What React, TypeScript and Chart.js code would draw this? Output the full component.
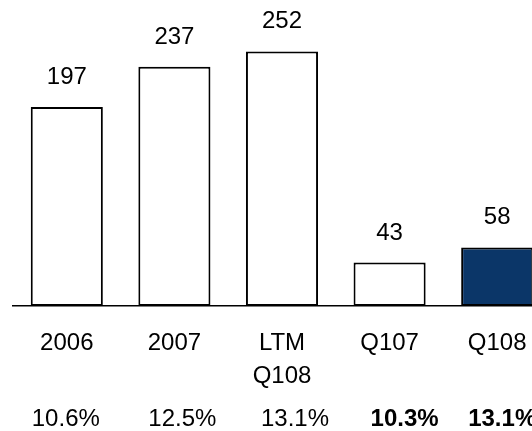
import { useEffect, useRef } from "react";
import { Chart, registerables } from "chart.js";

Chart.register(...registerables);

// Periods shown on the category axis (multi-line where needed)
const categories: (string | string[])[] = ["2006", "2007", ["LTM", "Q108"], "Q107", "Q108"];
// Bar values
const values = [197, 237, 252, 43, 58];
// Margin row printed beneath the periods, in percent
const margins = [10.6, 12.5, 13.1, 10.3, 13.1];

const FONT = "'Liberation Sans', Arial, Helvetica, sans-serif";
const NAVY = "#0b3668";
const HIGHLIGHT_BAR = 4; // filled bar
const BOLD_MARGIN_FROM = 3; // quarterly margins are set in bold

const annotations = {
  id: "barAnnotations",
  afterDatasetsDraw(chart: Chart) {
    const ctx = chart.ctx;
    const meta = chart.getDatasetMeta(0);
    const nudge: number[] = (chart.options.plugins as any).barAnnotations.marginNudge;
    ctx.save();
    ctx.fillStyle = "#000";
    ctx.textAlign = "center";
    ctx.textBaseline = "alphabetic";
    ctx.font = `24px ${FONT}`;
    meta.data.forEach((bar: any, i: number) => {
      const { x, y } = bar.getProps(["x", "y"], true);
      ctx.fillText(String(values[i]), x, y - 23);
    });
    meta.data.forEach((bar: any, i: number) => {
      const { x } = bar.getProps(["x"], true);
      ctx.font = `${i >= BOLD_MARGIN_FROM ? "bold " : ""}24px ${FONT}`;
      ctx.fillText(`${margins[i].toFixed(1)}%`, x + (nudge[i] || 0), 426);
    });
    ctx.restore();
  },
};

export default function App() {
  const canvasRef = useRef<HTMLCanvasElement | null>(null);

  useEffect(() => {
    if (!canvasRef.current) return;
    const chart = new Chart(canvasRef.current, {
      type: "bar",
      data: {
        labels: categories,
        datasets: [
          {
            data: values,
            backgroundColor: values.map((_, i) => (i === HIGHLIGHT_BAR ? NAVY : "#ffffff")),
            borderColor: "#000000",
            borderWidth: 2,
            borderSkipped: false,
            barPercentage: 0.67,
            categoryPercentage: 1,
          },
        ],
      },
      options: {
        responsive: false,
        animation: false,
        events: [],
        layout: { padding: { left: 13, right: 9, top: 3, bottom: 0 } },
        plugins: {
          legend: { display: false },
          tooltip: { enabled: false },
          barAnnotations: { marginNudge: [-1, 8, 13, 15, 5] },
        } as any,
        scales: {
          x: {
            grid: { display: false, drawTicks: false },
            border: { display: true, color: "#000000", width: 1.5 },
            ticks: {
              color: "#000000",
              padding: 21,
              maxRotation: 0,
              autoSkip: false,
              font: { family: FONT, size: 24, lineHeight: 1.36 },
            },
            afterFit(scale: any) {
              scale.height = 125;
            },
          },
          y: {
            display: false,
            min: 0,
            max: 300,
          },
        },
      },
      plugins: [annotations],
    });
    return () => chart.destroy();
  }, []);

  return (
    <div
      style={{
        position: "fixed",
        left: 0,
        top: 0,
        width: 532,
        height: 431,
        overflow: "hidden",
        background: "#ffffff",
      }}
    >
      <canvas ref={canvasRef} width={560} height={431} style={{ display: "block" }} />
    </div>
  );
}
